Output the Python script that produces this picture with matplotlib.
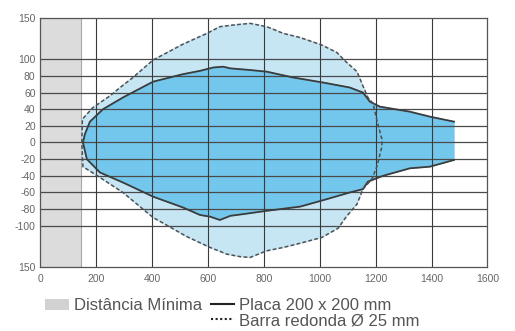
import matplotlib.pyplot as plt
from matplotlib.patches import Patch
from matplotlib.lines import Line2D

# Distância mínima (zona cinza)
dist_min = 145

# Barra redonda Ø 25 mm - contorno (x, y)
barra_x = [148, 150, 188, 249, 285, 331, 403, 510, 596, 642, 690, 750, 810, 869, 929, 1007,
           1061, 1090, 1133, 1154, 1172, 1190, 1204, 1222, 1222, 1204, 1186, 1154, 1133, 1097,
           1065, 1007, 929, 869, 810, 750, 714, 667, 607, 524, 403, 295, 213, 152, 148]
barra_y = [0, 28, 42, 56, 66, 78, 99, 118, 131, 139, 141, 143, 139, 131, 126, 117,
           108, 98, 85, 68, 54, 47, 27, 4, -5, -29, -44, -56, -74, -88,
           -103, -114, -121, -126, -130, -138, -137, -134, -126, -113, -90, -60, -42, -29, 0]

# Placa 200 x 200 mm - contorno
placa_x = [152, 159, 177, 224, 295, 403, 510, 571, 618, 654, 679, 750, 810, 905, 1011, 1107,
           1154, 1179, 1215, 1322, 1394, 1480, 1480, 1394, 1322, 1226, 1172, 1154, 1107, 1025,
           929, 810, 725, 680, 642, 607, 571, 510, 403, 295, 213, 166, 152]
placa_y = [0, 10, 25, 40, 54, 73, 82, 86, 90, 91, 89, 87, 85, 78, 72, 66,
           60, 49, 43, 37, 31, 25, -21, -29, -31, -40, -47, -56, -60, -68,
           -77, -82, -86, -88, -93, -89, -87, -78, -65, -48, -36, -20, 0]

x_ticks = [0, 200, 400, 600, 800, 1000, 1200, 1400, 1600]
y_ticks = [150, 100, 80, 60, 40, 20, 0, -20, -40, -60, -80, -100, -150]
y_labels = ['150', '100', '80', '60', '40', '20', '0', '-20', '-40', '-60', '-80', '-100', '150']

plt.rcParams['font.family'] = ['Liberation Sans', 'DejaVu Sans']

fig = plt.figure(figsize=(5.15, 3.31), dpi=100)
ax = fig.add_axes([0.0786, 0.192, 0.868, 0.755])

ax.axvspan(0, dist_min, facecolor='#dcdcdc', edgecolor='#a8a8a8', lw=0.8, zorder=1)
ax.fill(barra_x, barra_y, color='#c6e6f4', zorder=2)
ax.fill(placa_x[:-1], placa_y[:-1], color='#74c7ec', zorder=3)

# grade
for yv in y_ticks[1:-1]:
    ax.axhline(yv, color='#4a4a4a', lw=0.9, zorder=4)
for xv in x_ticks[1:-1]:
    ax.axvline(xv, color='#3a3a3a', lw=0.8, zorder=4)

ax.plot(placa_x[:22], placa_y[:22], color='#3c3c3c', lw=1.3, zorder=5)
ax.plot(placa_x[22:], placa_y[22:], color='#3c3c3c', lw=1.3, zorder=5)
ax.plot(barra_x, barra_y, color='#505050', lw=1.1, ls=(0, (2.5, 1.5)), zorder=6)

ax.set_xlim(0, 1600)
ax.set_ylim(-150, 150)
ax.set_xticks(x_ticks)
ax.set_yticks(y_ticks)
ax.set_yticklabels(y_labels)
ax.tick_params(length=0, labelsize=7.5, labelcolor='#666666')
ax.tick_params(axis='x', pad=5)
ax.tick_params(axis='y', pad=3.5)
for s in ax.spines.values():
    s.set_color('#555555')
    s.set_linewidth(0.9)
    s.set_zorder(7)

handles = [Patch(facecolor='#d2d2d2', edgecolor='none'),
           Line2D([], [], color='none'),
           Line2D([], [], color='#222222', lw=1.5),
           Line2D([], [], color='#222222', lw=1.5, ls=(0, (1, 1.2)))]
labels = ['Distância Mínima', '', 'Placa 200 x 200 mm', 'Barra redonda Ø 25 mm']
fig.legend(handles, labels, ncol=2, loc='upper left', bbox_to_anchor=(0.072, 0.124),
           frameon=False, fontsize=12, handlelength=1.4, handletextpad=0.3,
           columnspacing=0.55, labelspacing=0.0, borderpad=0, labelcolor='#555555')

fig.savefig('out.png', dpi=100)
